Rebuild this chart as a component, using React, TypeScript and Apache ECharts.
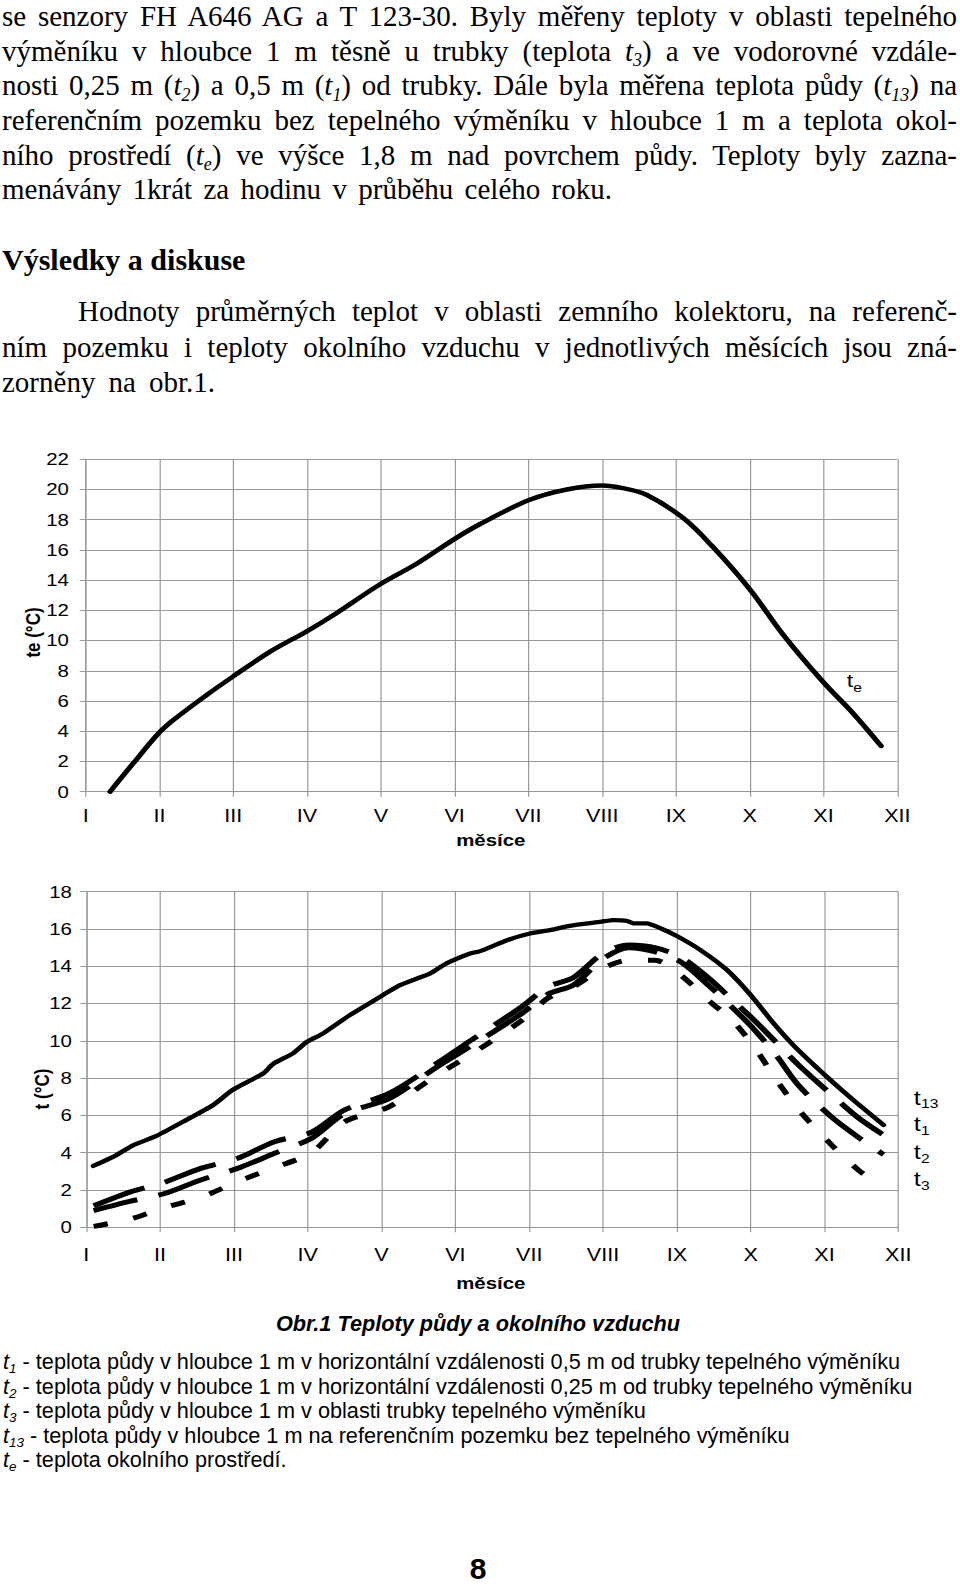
import React, { useEffect, useRef } from "react";
import * as echarts from "echarts";

// ---- data (x in months: 0 = I ... 11 = XII) ----
const monthLabels = ["I", "II", "III", "IV", "V", "VI", "VII", "VIII", "IX", "X", "XI", "XII"];

const teX = [0.33, 0.645, 0.99, 1.19, 1.64, 1.99, 2.5, 2.99, 3.36, 3.98, 4.49, 4.98, 5.34, 6.01, 6.52, 7.0, 7.28, 7.6, 8.1, 8.5, 9.0, 9.45, 9.99, 10.4, 10.78];
const teY = [0, 1.88, 3.87, 4.75, 6.4, 7.6, 9.27, 10.6, 11.7, 13.7, 15.1, 16.67, 17.7, 19.3, 20.0, 20.26, 20.09, 19.65, 18.1, 16.2, 13.4, 10.4, 7.28, 5.19, 3.03];

const t13X = [0.095, 0.37, 0.64, 0.95, 1.31, 1.72, 1.98, 2.4, 2.53, 2.8, 2.99, 3.21, 3.57, 4.02, 4.25, 4.66, 4.88, 5.2, 5.33, 5.7, 6.01, 6.28, 6.55, 6.98, 7.14, 7.32, 7.41, 7.59, 7.8, 8.0, 8.32, 8.68, 9.02, 9.31, 9.6, 10.08, 10.39, 10.8];
const t13Y = [3.29, 3.79, 4.41, 4.9, 5.66, 6.56, 7.36, 8.26, 8.76, 9.33, 9.95, 10.4, 11.38, 12.46, 12.99, 13.62, 14.16, 14.69, 14.8, 15.4, 15.76, 15.94, 16.17, 16.39, 16.48, 16.44, 16.3, 16.3, 16.0, 15.62, 14.87, 13.8, 12.37, 10.94, 9.68, 7.9, 6.83, 5.49];

const soilX = [0.1, 0.6, 1.05, 1.55, 2.05, 2.55, 3.05, 3.5, 4.1, 4.75, 5.2, 5.9, 6.25, 6.6, 7.0, 7.35, 7.7, 8.05, 8.45, 8.75, 9.05, 9.35, 9.65, 10.1, 10.45, 10.8];
const t1Y = [1.15, 1.9, 2.4, 3.16, 3.7, 4.59, 5.1, 6.3, 7.18, 8.8, 10.0, 11.83, 12.9, 13.4, 14.7, 15.14, 15.0, 14.5, 13.3, 12.2, 11.1, 9.9, 8.7, 7.1, 5.9, 4.95];
const t2Y = [0.9, 1.4, 1.8, 2.54, 3.16, 3.97, 4.77, 6.1, 6.9, 8.6, 9.7, 11.47, 12.5, 13.0, 14.4, 15.0, 14.78, 14.24, 12.9, 11.8, 10.6, 9.2, 7.6, 5.9, 4.85, 3.9];
const t3Y = [0.05, 0.45, 1.05, 1.6, 2.45, 3.2, 4.0, 5.66, 6.46, 8.17, 9.24, 11.1, 12.28, 12.9, 13.9, 14.33, 14.33, 13.53, 12.1, 11.1, 9.65, 7.9, 6.3, 4.4, 3.1, 2.1];

const teAxisMax = 22;
const soilAxisMax = 18;
const tempStep = 2;

// ---- page texts ----
const para1 = [
  "se senzory FH A646 AG a T 123-30. Byly měřeny teploty v oblasti tepelného",
  "výměníku v hloubce 1 m těsně u trubky (teplota {t3}) a ve vodorovné vzdále-",
  "nosti 0,25 m ({t2}) a 0,5 m ({t1}) od trubky. Dále byla měřena teplota půdy ({t13}) na",
  "referenčním pozemku bez tepelného výměníku v hloubce 1 m a teplota okol-",
  "ního prostředí ({te}) ve výšce 1,8 m nad povrchem půdy. Teploty byly zazna-",
  "menávány 1krát za hodinu v průběhu celého roku.",
];
const heading = "Výsledky a diskuse";
const para2 = [
  "Hodnoty průměrných teplot v oblasti zemního kolektoru, na referenč-",
  "ním pozemku i teploty okolního vzduchu v jednotlivých měsících jsou zná-",
  "zorněny na obr.1.",
];
const caption = "Obr.1 Teploty půdy a okolního vzduchu";
const legendLines = [
  "{t1} - teplota půdy v hloubce 1 m v horizontální vzdálenosti 0,5 m od trubky tepelného výměníku",
  "{t2} - teplota půdy v hloubce 1 m v horizontální vzdálenosti 0,25 m od trubky tepelného výměníku",
  "{t3} - teplota půdy v hloubce 1 m v oblasti trubky tepelného výměníku",
  "{t13} - teplota půdy v hloubce 1 m na referenčním pozemku bez tepelného výměníku",
  "{te} - teplota okolního prostředí.",
];
const pageNumber = "8";

const STRETCH = 1.2; // the chart pictures are stretched horizontally in the scan
const SERIF = "'Liberation Serif', 'Times New Roman', serif";
const SANS = "'Liberation Sans', Arial, sans-serif";
const GRID = "#999";

function Rich({ s }: { s: string }) {
  const parts = s.split(/(\{t\w+\})/);
  return (
    <>
      {parts.map((p, i) => {
        const m = p.match(/^\{t(\w+)\}$/);
        if (m)
          return (
            <span key={i} style={{ fontStyle: "italic", whiteSpace: "nowrap" }}>
              t
              <span style={{ fontSize: "0.62em", position: "relative", top: "0.3em" }}>{m[1]}</span>
            </span>
          );
        return <React.Fragment key={i}>{p}</React.Fragment>;
      })}
    </>
  );
}

function Line(props: {
  s: string;
  left: number;
  baseline: number;
  width?: number;
  size: number;
  serif?: boolean;
  bold?: boolean;
  italic?: boolean;
  justify?: boolean;
  center?: boolean;
}) {
  const asc = props.serif ? 0.8375 : 0.8465;
  const align = props.justify ? "justify" : props.center ? "center" : "left";
  return (
    <div
      style={{
        position: "absolute",
        left: props.left,
        top: props.baseline - asc * props.size,
        width: props.width,
        height: props.size,
        lineHeight: props.size + "px",
        fontSize: props.size,
        fontFamily: props.serif ? SERIF : SANS,
        fontWeight: props.bold ? "bold" : "normal",
        fontStyle: props.italic ? "italic" : "normal",
        whiteSpace: "nowrap",
        textAlign: align,
        textAlignLast: align,
        color: "#000",
      } as React.CSSProperties}
    >
      <Rich s={props.s} />
    </div>
  );
}

const zip = (xs: number[], ys: number[]) => xs.map((x, i) => [x, ys[i]]);

function Charts() {
  const ref = useRef<HTMLDivElement>(null);
  useEffect(() => {
    if (!ref.current) return;
    const chart = echarts.init(ref.current, undefined, { renderer: "svg" });
    const mkX = (gridIndex: number, margin: number) => ({
      type: "value",
      gridIndex,
      min: 0,
      max: monthLabels.length - 1,
      interval: 1,
      axisLine: { show: true, lineStyle: { color: GRID, width: 1 } },
      axisTick: { show: true, length: 5, lineStyle: { color: GRID } },
      axisLabel: {
        formatter: (v: number) => monthLabels[Math.round(v)] ?? "",
        fontSize: 18,
        color: "#000",
        fontFamily: SANS,
        margin,
        showMinLabel: true,
        showMaxLabel: true,
      },
      splitLine: { show: true, lineStyle: { color: GRID, width: 1 } },
    });
    const mkY = (gridIndex: number, max: number, margin: number) => ({
      type: "value",
      gridIndex,
      min: 0,
      max,
      interval: tempStep,
      axisLine: { show: true, lineStyle: { color: GRID, width: 1 } },
      axisTick: { show: true, length: 5, lineStyle: { color: GRID } },
      axisLabel: { fontSize: 17, color: "#000", fontFamily: SANS, margin },
      splitLine: { show: true, lineStyle: { color: GRID, width: 1 } },
    });
    const lineBase = { type: "line", symbol: "none", showSymbol: false, silent: true };
    const txt = (text: string, x: number, y: number, o: any = {}) => ({
      type: "text",
      x,
      y,
      rotation: o.rotation || 0,
      style: {
        text,
        fill: "#000",
        fontSize: o.size || 17,
        fontWeight: o.bold ? "bold" : "normal",
        fontFamily: SANS,
        align: o.align || "center",
        verticalAlign: "middle",
      },
    });
    chart.setOption({
      animation: false,
      grid: [
        { left: 71.4, top: 459.3, width: 676.4, height: 332.4 },
        { left: 71.9, top: 891.7, width: 676.7, height: 335.6 },
      ],
      xAxis: [mkX(0, 15), mkX(1, 18)],
      yAxis: [mkY(0, teAxisMax, 14), mkY(1, soilAxisMax, 12)],
      series: [
        {
          ...lineBase,
          name: "te",
          xAxisIndex: 0,
          yAxisIndex: 0,
          smooth: 0.35,
          data: zip(teX, teY),
          lineStyle: { color: "#000", width: 4.5, cap: "round", join: "round" },
        },
        {
          ...lineBase,
          name: "t13",
          xAxisIndex: 1,
          yAxisIndex: 1,
          smooth: 0.2,
          data: zip(t13X, t13Y),
          lineStyle: { color: "#000", width: 4.3, cap: "round", join: "round" },
        },
        {
          ...lineBase,
          name: "t1",
          xAxisIndex: 1,
          yAxisIndex: 1,
          smooth: 0.3,
          data: zip(soilX, t1Y),
          lineStyle: { color: "#000", width: 5, type: [46, 18], dashOffset: 0 },
        },
        {
          ...lineBase,
          name: "t2",
          xAxisIndex: 1,
          yAxisIndex: 1,
          smooth: 0.3,
          data: zip(soilX, t2Y),
          lineStyle: { color: "#000", width: 5, type: [46, 18], dashOffset: 8 },
        },
        {
          ...lineBase,
          name: "t3",
          xAxisIndex: 1,
          yAxisIndex: 1,
          smooth: 0.3,
          data: zip(soilX, t3Y),
          lineStyle: { color: "#000", width: 5, type: [12, 22], dashOffset: 0 },
        },
      ],
      graphic: [
        txt("te (°C)", 27.5, 632.5, { bold: true, rotation: Math.PI / 2 }),
        txt("měsíce", 409, 840, { bold: true }),
        txt("t", 705.6, 680, { align: "left", size: 19 }),
        txt("e", 711, 687, { align: "left", size: 13 }),
        txt("t (°C)", 34.7, 1089, { bold: true, rotation: Math.PI / 2 }),
        txt("měsíce", 409, 1283, { bold: true }),
        txt("t", 761.5, 1097.3, { align: "left", size: 21 }),
        txt("13", 767.6, 1103.5, { align: "left", size: 13 }),
        txt("t", 761.5, 1123.3, { align: "left", size: 21 }),
        txt("1", 767.6, 1130, { align: "left", size: 13 }),
        txt("t", 761.5, 1151.7, { align: "left", size: 21 }),
        txt("2", 767.6, 1158.3, { align: "left", size: 13 }),
        txt("t", 761.5, 1178.3, { align: "left", size: 21 }),
        txt("3", 767.6, 1185, { align: "left", size: 13 }),
      ],
    });
    return () => chart.dispose();
  }, []);
  return <div ref={ref} style={{ position: "absolute", left: 0, top: 0, width: 800, height: 1588 }} />;
}

export default function App() {
  const pitch = 34.6;
  return (
    <div style={{ position: "absolute", left: 0, top: 0, width: 960, height: 1588, background: "#fff", overflow: "hidden" }}>
      <div
        style={{
          position: "absolute",
          left: 0,
          top: 0,
          width: 800,
          height: 1588,
          transform: `scaleX(${STRETCH})`,
          transformOrigin: "0 0",
        }}
      >
        <Charts />
      </div>
      {para1.map((s, i) => (
        <Line
          key={"p1" + i}
          s={s}
          left={2}
          baseline={26.5 + i * pitch}
          width={i === para1.length - 1 ? 610 : 955}
          size={29}
          serif
          justify
        />
      ))}
      <Line s={heading} left={2} baseline={270} size={30} serif bold />
      {para2.map((s, i) => (
        <Line
          key={"p2" + i}
          s={s}
          left={i === 0 ? 78 : 2}
          baseline={321.5 + i * 35.3}
          width={i === 0 ? 879 : i === para2.length - 1 ? 213 : 955}
          size={29}
          serif
          justify
        />
      ))}
      <Line s={caption} left={0} width={956} baseline={1331} size={21.7} bold italic center />
      {legendLines.map((s, i) => (
        <Line key={"lg" + i} s={s} left={3} baseline={1369.5 + i * 24.5} size={21.7} />
      ))}
      <Line s={pageNumber} left={438} width={80} baseline={1579} size={30} bold center />
    </div>
  );
}
